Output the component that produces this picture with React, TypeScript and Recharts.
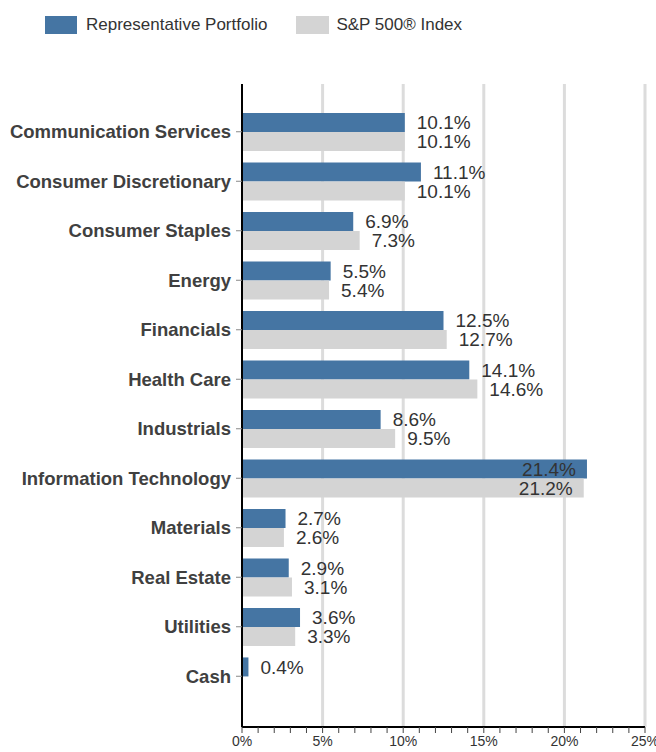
import { BarChart, Bar, XAxis, YAxis, CartesianGrid, LabelList } from 'recharts';

const sectors = [
  'Communication Services',
  'Consumer Discretionary',
  'Consumer Staples',
  'Energy',
  'Financials',
  'Health Care',
  'Industrials',
  'Information Technology',
  'Materials',
  'Real Estate',
  'Utilities',
  'Cash',
];
const portfolio = [10.1, 11.1, 6.9, 5.5, 12.5, 14.1, 8.6, 21.4, 2.7, 2.9, 3.6, 0.4];
const index = [10.1, 10.1, 7.3, 5.4, 12.7, 14.6, 9.5, 21.2, 2.6, 3.1, 3.3, null];
const xTicks = Array.from({ length: 26 }, (_, i) => i);
const gridValues = [5, 10, 15, 20, 25];

const BLUE = '#4575a3';
const GREY = '#d4d4d4';
const FONT = '"Liberation Sans", Arial, sans-serif';
const PLOT_RIGHT = 645;

const data = sectors.map((name, i) => ({ name, portfolio: portfolio[i], index: index[i] }));

// value label: outside the bar, or inside when it would run off the plot
function ValueLabel(props: any) {
  const { x, y, width, height, value } = props;
  if (value == null) return null;
  const text = `${Number(value).toFixed(1)}%`;
  const end = x + width;
  const inside = end + 12 + 56 > PLOT_RIGHT;
  return (
    <text
      x={inside ? end - 11 : end + 12}
      y={y + height / 2}
      dy="0.36em"
      textAnchor={inside ? 'end' : 'start'}
      fontSize={19}
      fill="#333"
      fontFamily={FONT}
    >
      {text}
    </text>
  );
}

export default function App() {
  return (
    <div style={{ position: 'absolute', left: 0, top: 0, width: 656, height: 752, fontFamily: FONT, background: '#fff' }}>
      {/* legend */}
      <div style={{ position: 'absolute', top: 15, left: 45, display: 'flex', alignItems: 'center', fontSize: 17, color: '#333' }}>
        <span style={{ width: 32, height: 18, background: BLUE, display: 'inline-block' }} />
        <span style={{ marginLeft: 9 }}>Representative Portfolio</span>
        <span style={{ width: 33, height: 18, background: GREY, display: 'inline-block', marginLeft: 29 }} />
        <span style={{ marginLeft: 7 }}>S&amp;P 500® Index</span>
      </div>
      <BarChart
        width={656}
        height={752}
        data={data}
        layout="vertical"
        margin={{ top: 84, right: 11, bottom: 0, left: 0 }}
        barCategoryGap="12%"
        barGap={0}
      >
        <CartesianGrid horizontal={false} verticalValues={gridValues} stroke="#dcdcdc" strokeWidth={3} />
        <XAxis
          type="number"
          domain={[0, 25]}
          ticks={xTicks}
          interval={0}
          height={25}
          tickFormatter={(v: number) => (v % 5 === 0 ? `${v}%` : '')}
          axisLine={{ stroke: '#000', strokeWidth: 2 }}
          tickLine={{ stroke: '#444' }}
          tickSize={6}
          tickMargin={3}
          tick={{ fontSize: 14, fill: '#333', fontFamily: FONT }}
        />
        <YAxis
          type="category"
          dataKey="name"
          width={242}
          padding={{ top: 23, bottom: 26 }}
          axisLine={{ stroke: '#000', strokeWidth: 2 }}
          tickLine={{ stroke: '#888' }}
          tickSize={6}
          tickMargin={5}
          interval={0}
          tick={{ fontSize: 18.5, fill: '#404040', fontWeight: 'bold', fontFamily: FONT }}
        />
        <Bar dataKey="portfolio" fill={BLUE} isAnimationActive={false}>
          <LabelList dataKey="portfolio" content={ValueLabel} />
        </Bar>
        <Bar dataKey="index" fill={GREY} isAnimationActive={false}>
          <LabelList dataKey="index" content={ValueLabel} />
        </Bar>
      </BarChart>
    </div>
  );
}
